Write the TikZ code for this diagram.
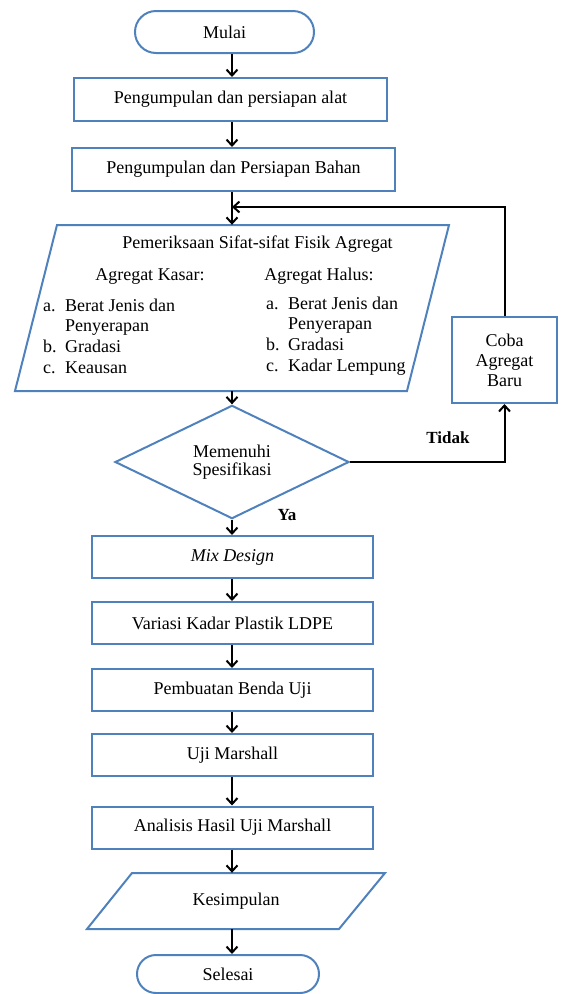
\documentclass[tikz,border=0pt]{standalone}
\usepackage{fontspec}
\setmainfont{Liberation Serif}
\usetikzlibrary{shapes.geometric,shapes.misc,arrows.meta}
\definecolor{blueline}{RGB}{79,129,189}

\begin{document}
\begin{tikzpicture}[x=1pt,y=-1pt,
    every node/.style={font=\fontsize{18}{20.7}\selectfont},
    box/.style={draw=blueline,line width=2pt,minimum width=281pt,minimum height=42pt,inner sep=0pt},
    term/.style={draw=blueline,line width=2pt,rounded rectangle,inner sep=0pt},
    io/.style={draw=blueline,line width=2pt,line join=miter},
    dec/.style={draw=blueline,line width=2pt,diamond,inner sep=0pt,align=center},
    arr/.style={line width=2pt,-{Straight Barb[length=6pt,width=11pt]}},
    lbl/.style={font=\fontsize{17}{20}\selectfont\bfseries}]
    \useasboundingbox (0,0) rectangle (561,994);
    \coordinate (spine) at (232,0);
    \coordinate (fb) at (232,207);
    \node [term,minimum width=179pt,minimum height=42pt] (mulai) at (224.5,32) {Mulai};
    \node [box,minimum width=313pt,minimum height=43pt] (alat) at (230.5,99.5) {Pengumpulan dan persiapan alat};
    \node [box,minimum width=323pt,minimum height=43pt] (bahan) at (233.5,169.5) {Pengumpulan dan Persiapan Bahan};
    \draw [io] (15,391) -- (57,225) -- (449,225) -- (407,391) -- cycle;
    \node [minimum width=392pt,minimum height=166pt,inner sep=0pt] (periksa) at (232,308) {};
    \node (judul) at (257.5,244) {Pemeriksaan Sifat-sifat Fisik Agregat};
    \node (kasar) at (150,276) {Agregat Kasar:};
    \node (halus) at (319,276) {Agregat Halus:};
    \node [anchor=west,align=left,inner sep=0pt] (listkasar) at (43,336) {\makebox[22pt][l]{a.}Berat Jenis dan\\\hspace*{22pt}Penyerapan\\\makebox[22pt][l]{b.}Gradasi\\\makebox[22pt][l]{c.}Keausan};
    \node [anchor=west,align=left,inner sep=0pt] (listhalus) at (266,336) {\makebox[22pt][l]{a.}Berat Jenis dan\\\hspace*{22pt}Penyerapan\\\makebox[22pt][l]{b.}Gradasi\\\makebox[22pt][l]{c.}Kadar Lempung};
    \node [box,minimum width=105pt,minimum height=86pt,align=center,font=\fontsize{18}{20}\selectfont] (coba) at (504.5,360) {Coba\\Agregat\\Baru};
    \node [dec,minimum width=234pt,minimum height=99pt,font=\fontsize{18}{18}\selectfont] (cek) at (232,462) {Memenuhi\\Spesifikasi};
    \node [lbl] (tidak) at (448,438) {Tidak};
    \node [lbl] (ya) at (287,515) {Ya};
    \node [box] (mix) at (232.5,557) {\itshape Mix Design};
    \node [box] (variasi) at (232.5,623) {Variasi Kadar Plastik LDPE};
    \node [box] (buat) at (232.5,690) {Pembuatan Benda Uji};
    \node [box] (uji) at (232.5,755) {Uji Marshall};
    \node [box] (analisis) at (232.5,827.5) {Analisis Hasil Uji Marshall};
    \draw [io] (87,929) -- (132,873) -- (385,873) -- (339,929) -- cycle;
    \node [minimum width=253pt,minimum height=56pt,inner sep=0pt] (simpul) at (236,901) {Kesimpulan};
    \node [term,minimum width=182pt,minimum height=38pt] (selesai) at (228,974) {Selesai};

    \draw [arr] (mulai.south -| spine) -- (alat.north -| spine);
    \draw [arr] (alat.south -| spine) -- (bahan.north -| spine);
    \draw [arr] (bahan.south -| spine) -- (periksa.north -| spine);
    \draw [arr] (periksa.south -| spine) -- (cek.north -| spine);
    \draw [arr] (cek.south -| spine) -- (mix.north -| spine);
    \draw [arr] (mix.south -| spine) -- (variasi.north -| spine);
    \draw [arr] (variasi.south -| spine) -- (buat.north -| spine);
    \draw [arr] (buat.south -| spine) -- (uji.north -| spine);
    \draw [arr] (uji.south -| spine) -- (analisis.north -| spine);
    \draw [arr] (analisis.south -| spine) -- (simpul.north -| spine);
    \draw [arr] (simpul.south -| spine) -- (selesai.north -| spine);
    \draw [arr] (cek.east) -| (coba.south);
    \draw [arr] (coba.north) |- (fb);
\end{tikzpicture}
\end{document}
